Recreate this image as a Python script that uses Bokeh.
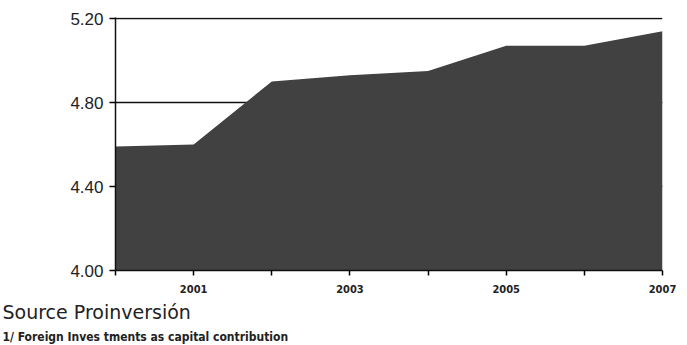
from bokeh.plotting import figure
from bokeh.models import FixedTicker, Range1d, Title
from bokeh.embed import file_html
from bokeh.resources import INLINE

years = [2000, 2001, 2002, 2003, 2004, 2005, 2006, 2007]
values = [4.59, 4.60, 4.90, 4.93, 4.95, 5.07, 5.07, 5.14]
x_tick_labels = {2000: "", 2001: "2001", 2002: "", 2003: "2003", 2004: "", 2005: "2005", 2006: "", 2007: "2007"}
y_ticks = [4.00, 4.40, 4.80, 5.20]
source_text = "Source Proinversión"
note_text = "1/ Foreign Inves tments as capital contribution"

p = figure(width=687, height=345, output_backend="svg", toolbar_location=None,
           x_range=Range1d(2000, 2007), y_range=Range1d(4.0, 5.205),
           min_border_left=115, min_border_right=25, min_border_top=17, min_border_bottom=75)
p.background_fill_color = "white"
p.border_fill_color = "white"
p.outline_line_color = None

p.varea(x=years, y1=4.0, y2=values, fill_color="#414141")

p.xgrid.visible = False
p.ygrid.ticker = FixedTicker(ticks=y_ticks)
p.ygrid.grid_line_color = "#111111"
p.ygrid.grid_line_width = 1.5
p.ygrid.level = "underlay"

p.yaxis.ticker = FixedTicker(ticks=y_ticks)
p.yaxis.major_label_overrides = {t: f"{t:.2f}" for t in y_ticks}
p.yaxis.major_label_text_font = "Liberation Sans"
p.yaxis.major_label_text_font_size = "17px"
p.yaxis.major_label_text_color = "#222222"
p.yaxis.major_tick_in = 0
p.yaxis.major_tick_out = 6
p.yaxis.minor_tick_line_color = None
p.yaxis.axis_line_color = "#111111"
p.yaxis.axis_line_width = 1.5
p.yaxis.major_tick_line_width = 1.5
p.yaxis.major_label_standoff = 6

p.xaxis.ticker = FixedTicker(ticks=years)
p.xaxis.major_label_overrides = x_tick_labels
p.xaxis.major_label_text_font = "DejaVu Sans Condensed"
p.xaxis.major_label_text_font_style = "bold"
p.xaxis.major_label_text_font_size = "11px"
p.xaxis.major_label_text_color = "#222222"
p.xaxis.major_tick_in = 0
p.xaxis.major_tick_out = 5
p.xaxis.minor_tick_line_color = None
p.xaxis.axis_line_color = "#111111"
p.xaxis.axis_line_width = 1.5
p.xaxis.major_tick_line_width = 1.5
p.xaxis.major_label_standoff = 9

p.add_layout(Title(text=source_text, align="left", offset=-113, standoff=6,
                   text_font="DejaVu Sans", text_font_size="19px",
                   text_font_style="normal", text_color="#222222"), "below")
p.add_layout(Title(text=note_text, align="left", offset=-113, standoff=4,
                   text_font="DejaVu Sans Condensed", text_font_size="12px",
                   text_font_style="bold", text_color="#222222"), "below")

open("out.html", "w").write(file_html(p, INLINE))
